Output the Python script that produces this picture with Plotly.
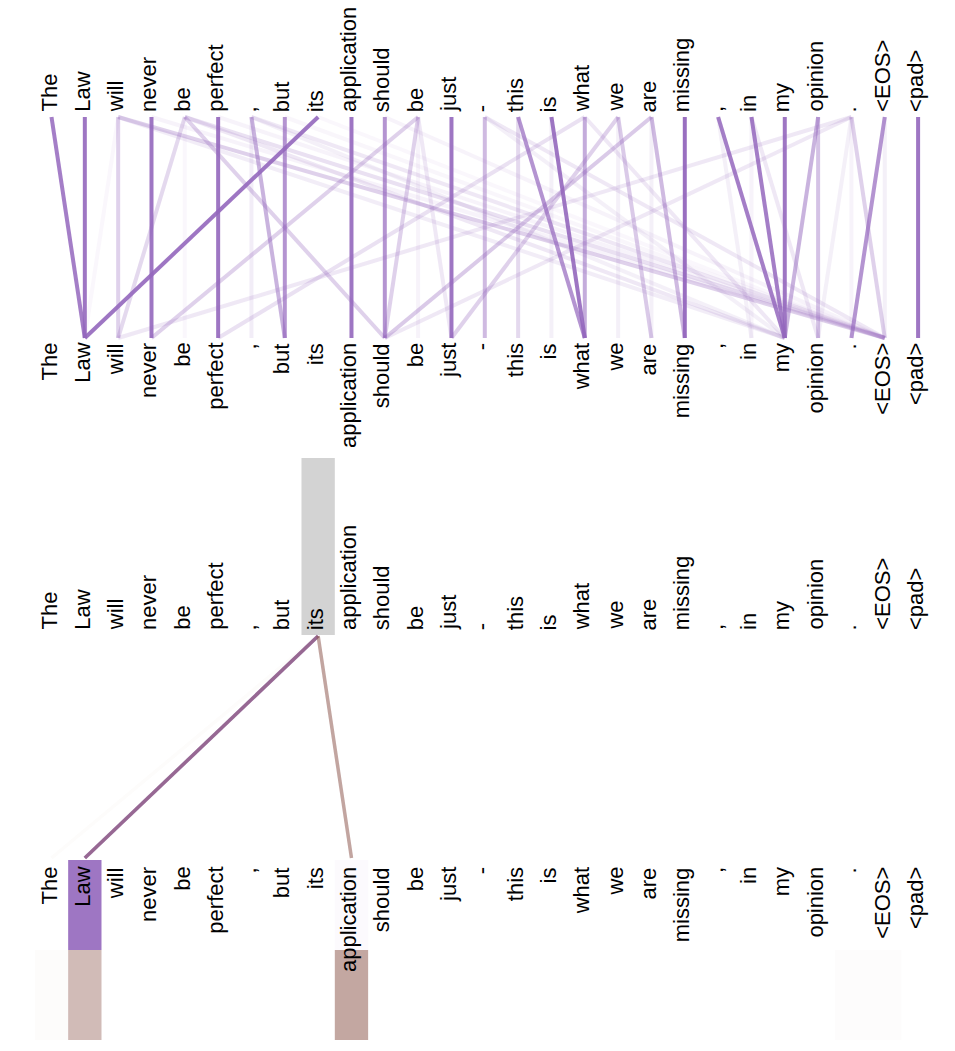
import plotly.graph_objects as go

tokens = ["The", "Law", "will", "never", "be", "perfect", ",", "but", "its",
          "application", "should", "be", "just", "-", "this", "is", "what",
          "we", "are", "missing", ",", "in", "my", "opinion", ".", "<EOS>", "<pad>"]

# upper view: one head, lines from the upper word (query) to the lower word (key)
top_src = [0, 1, 2, 2, 2, 2, 3, 3, 4, 4, 4, 4, 4, 5, 5, 6, 6, 6, 6, 7, 7, 8, 8,
           9, 10, 10, 11, 11, 11, 11, 12, 13, 13, 13, 14, 14, 15, 15, 16, 16, 16,
           17, 17, 17, 18, 18, 18, 19, 20, 20, 21, 21, 21, 22, 23, 23,
           24, 24, 24, 24, 24, 25, 25, 26]
top_dst = [1, 1, 2, 25, 22, 1, 3, 25, 2, 10, 25, 22, 4, 5, 25, 7, 6, 25, 22, 7, 25, 1, 25,
           9, 10, 25, 3, 10, 12, 11, 12, 13, 25, 22, 16, 14, 16, 15, 16, 5, 22,
           12, 18, 17, 10, 19, 18, 19, 22, 21, 22, 23, 21, 22, 22, 23,
           25, 2, 10, 23, 24, 24, 25, 26]
top_w = [0.85, 0.9, 0.3, 0.3, 0.12, 0.05, 0.9, 0.08, 0.25, 0.3, 0.2, 0.15, 0.05, 0.9, 0.08,
         0.5, 0.12, 0.15, 0.1, 0.7, 0.06, 0.9, 0.05,
         0.9, 0.7, 0.08, 0.3, 0.3, 0.15, 0.08, 0.9, 0.45, 0.15, 0.1, 0.7, 0.25, 0.9, 0.1,
         0.55, 0.2, 0.15, 0.3, 0.35, 0.1, 0.35, 0.45, 0.1, 0.95, 0.85, 0.1, 0.85, 0.15, 0.08,
         0.9, 0.5, 0.4, 0.3, 0.15, 0.15, 0.1, 0.08, 0.7, 0.1, 0.9]

# lower view: attention of the selected word "its", two heads
focus = 8
purple_attn = [0.0, 0.9, 0.0, 0.0, 0.0, 0.0, 0.0, 0.0, 0.0, 0.03, 0.0, 0.0, 0.0, 0.0,
               0.0, 0.0, 0.0, 0.0, 0.0, 0.0, 0.0, 0.0, 0.0, 0.0, 0.0, 0.0, 0.0]
brown_attn = [0.02, 0.4, 0.0, 0.0, 0.0, 0.0, 0.0, 0.0, 0.0, 0.52, 0.0, 0.0, 0.0, 0.0,
              0.0, 0.0, 0.0, 0.0, 0.0, 0.0, 0.0, 0.0, 0.0, 0.0, 0.015, 0.015, 0.0]

PURPLE = (148, 103, 189)
BROWN = (140, 86, 75)
FONT = "Liberation Sans, Arial, sans-serif"
n = len(tokens)
idx = list(range(n))


def rgba(c, a):
    return "rgba(%d,%d,%d,%.3f)" % (c[0], c[1], c[2], a)


fig = go.Figure()

# upper view lines
for s, d, w in zip(top_src, top_dst, top_w):
    fig.add_trace(go.Scatter(x=[s, d], y=[117, 338], mode="lines",
                             line=dict(color=rgba(PURPLE, w), width=4),
                             hoverinfo="skip"))

# selected word highlight
fig.add_trace(go.Bar(x=[focus], y=[177], base=[458], width=1,
                     marker=dict(color="rgb(211,211,211)", line_width=0),
                     hoverinfo="skip"))

# attention boxes of the lower view
fig.add_trace(go.Bar(x=idx, y=[90] * n, base=[860] * n, width=1,
                     marker=dict(color=[rgba(PURPLE, a) for a in purple_attn], line_width=0),
                     hoverinfo="skip"))
fig.add_trace(go.Bar(x=idx, y=[90] * n, base=[950] * n, width=1,
                     marker=dict(color=[rgba(BROWN, a) for a in brown_attn], line_width=0),
                     hoverinfo="skip"))

# lower view lines
for attn, col in [(purple_attn, PURPLE), (brown_attn, BROWN)]:
    for j, a in enumerate(attn):
        if a >= 0.02:
            fig.add_trace(go.Scatter(x=[focus, j], y=[636, 858], mode="lines",
                                     line=dict(color=rgba(col, a), width=3.5),
                                     hoverinfo="skip"))

# word labels, turned to read upwards
rows = [(114, "bottom"), (341, "top"), (632, "bottom"), (865, "top")]
for ypos, anchor in rows:
    for i, t in enumerate(tokens):
        fig.add_annotation(x=i, y=ypos, text=t, textangle=-90, showarrow=False,
                           xanchor="center", yanchor=anchor, xshift=-3,
                           font=dict(family=FONT, size=22, color="black"))

fig.update_layout(
    width=955, height=1051,
    margin=dict(l=0, r=0, t=0, b=0),
    paper_bgcolor="white", plot_bgcolor="white",
    showlegend=False, barmode="overlay",
    xaxis=dict(range=[-1.545, 27.107], visible=False, fixedrange=True),
    yaxis=dict(range=[1051, 0], visible=False, fixedrange=True),
)

# drop the default page margin so the figure sits at the window corner
fig.write_html("out.html", config={"displayModeBar": False},
               post_script="document.body.style.margin = '0px';")
